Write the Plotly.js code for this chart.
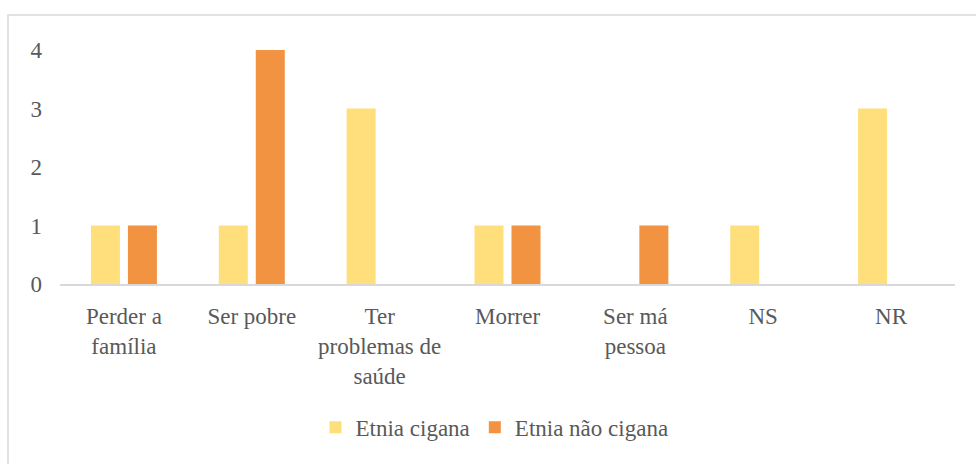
<!DOCTYPE html>
<html>
<head>
<meta charset="utf-8">
<script src="https://cdn.plot.ly/plotly-3.0.1.min.js"></script>
<style>
  html, body { margin: 0; padding: 0; background: #fff; }
  #chart { width: 976px; height: 464px; }
</style>
</head>
<body>
<div id="chart"></div>
<script>
const categories = ["Perder a<br>família", "Ser pobre", "Ter<br>problemas de<br>saúde", "Morrer", "Ser má<br>pessoa", "NS", "NR"];
const seriesNames = ["Etnia cigana", "Etnia não cigana"];
const ciganaValues = [1, 1, 3, 1, 0, 1, 3];
const naoCiganaValues = [1, 4, 0, 1, 1, 0, 0];
const yTickValues = [0, 1, 2, 3, 4];

const FONT = "Liberation Serif";
const TEXT = "#595959";

const traces = [
  { type: "bar", name: seriesNames[0], x: categories, y: ciganaValues,
    marker: { color: "#FFDF7C" }, hoverinfo: "x+y+name" },
  { type: "bar", name: seriesNames[1], x: categories, y: naoCiganaValues,
    marker: { color: "#F29342" }, hoverinfo: "x+y+name" }
];

const layout = {
  width: 976, height: 464,
  margin: { l: 60, r: 21, t: 49.5, b: 180, pad: 0 },
  paper_bgcolor: "#fff", plot_bgcolor: "#fff",
  font: { family: FONT, size: 23, color: TEXT },
  barmode: "group", bargap: 0.4212, bargroupgap: 0.216,
  showlegend: true,
  legend: { orientation: "h", x: 0.2855, xanchor: "left", y: -0.612, yanchor: "middle",
            font: { family: FONT, size: 23, color: TEXT }, bgcolor: "rgba(0,0,0,0)" },
  xaxis: { type: "category", tickvals: categories, ticktext: categories,
           showline: true, linecolor: "#D9D9D9", linewidth: 1.5,
           showgrid: false, zeroline: false, ticks: "", fixedrange: true,
           ticklabelstandoff: 11,
           tickfont: { family: FONT, size: 23, color: TEXT } },
  yaxis: { range: [0, 4], tickvals: yTickValues, ticktext: yTickValues.map(String),
           showgrid: false, zeroline: false, showline: false, ticks: "",
           ticklabelstandoff: 17, fixedrange: true,
           tickfont: { family: FONT, size: 23, color: TEXT } },
  shapes: [
    { type: "path", xref: "paper", yref: "paper",
      path: "M -0.0581 -0.77 L -0.0581 1.1493 L 1.03 1.1493",
      line: { color: "#D9D9D9", width: 1.5 } }
  ]
};

Plotly.newPlot("chart", traces, layout, { displayModeBar: false });
</script>
</body>
</html>
